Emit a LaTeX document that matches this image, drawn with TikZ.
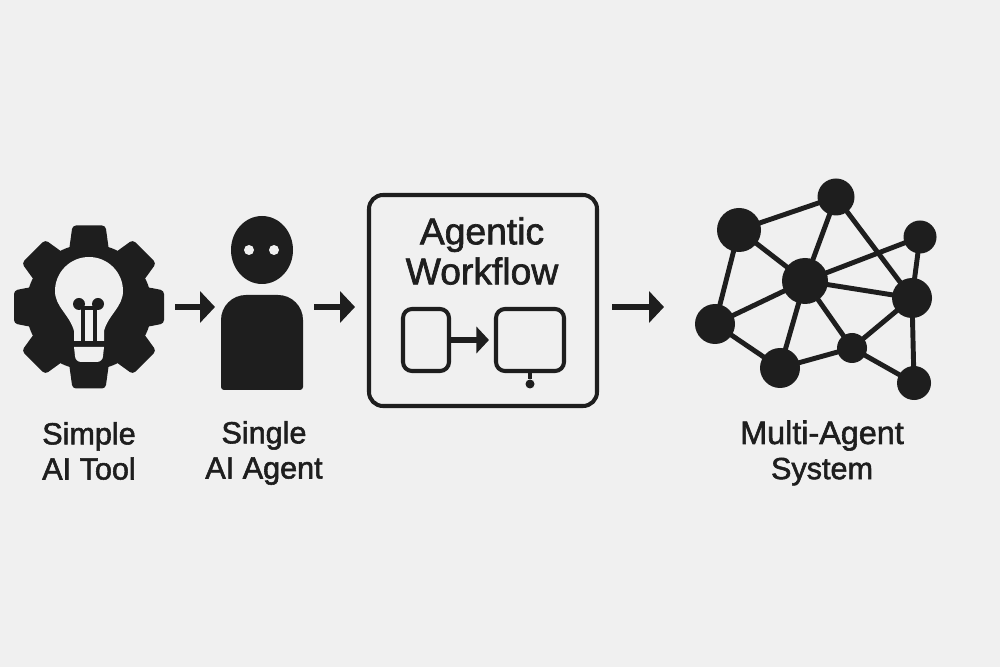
\documentclass[tikz,border=0pt]{standalone}
\usepackage{fontspec}
\setmainfont{Liberation Sans}[FakeBold=1.8]
\usetikzlibrary{arrows.meta}
\definecolor{ink}{HTML}{1E1E1E}
\definecolor{paper}{HTML}{F0F0F0}
\tikzset{
	flowarrow/.style={ink, line width=1.7pt, -{Triangle[length=1.5mm,width=3.1mm]}},
	smallarrow/.style={ink, line width=1.5pt, -{Triangle[length=1.25mm,width=2.6mm]}},
	agentnode/.style={circle, fill=ink, inner sep=0pt, outer sep=0pt},
	netlink/.style={ink, line width=1.4pt},
	flowbox/.style={draw=ink, line width=1.15pt, rounded corners=0.9mm, inner sep=0pt},
	caption/.style={ink, align=center, font=\fontsize{8.7pt}{10pt}\selectfont, inner sep=0pt},
	boxtitle/.style={ink, align=center, font=\fontsize{10.6pt}{11.4pt}\selectfont, inner sep=0pt}
}

\begin{document}
\begin{tikzpicture}
			%%%%% START %%%%%
			\fill[paper] (0, 0) rectangle (10, 6.67);
			
			% gear with bulb
			\foreach \a/\r in {0/0.75, 45/0.785, 90/0.815, 135/0.785, 180/0.75, 225/0.785, 270/0.815, 315/0.785}{
				\fill[ink, rounded corners=0.35mm, shift={(0.89, 3.60)}, rotate=\a] (0.4, -0.21) -- (0.6, -0.195) -- (\r, -0.165) -- (\r, 0.165) -- (0.6, 0.195) -- (0.4, 0.21) -- cycle;
			}
			\fill[ink] (0.89, 3.60) circle (0.63);
			\fill[paper] (0.74, 3.26) -- (0.74, 3.36) .. controls (0.70, 3.52) and (0.55, 3.60) .. (0.55, 3.76) arc (180:0:0.34) .. controls (1.23, 3.60) and (1.08, 3.52) .. (1.04, 3.36) -- (1.04, 3.26) -- cycle;
			\fill[paper] (0.74, 3.20) -- (1.04, 3.20) -- (1.03, 3.11) arc (0:-90:0.06) -- (0.81, 3.05) arc (270:180:0.06) -- cycle;
			\fill[ink] (0.79, 3.63) circle (0.06);
			\fill[ink] (0.98, 3.63) circle (0.06);
			\draw[ink, line width=1.15pt] (0.83, 3.26) -- (0.83, 3.59) -- (0.95, 3.59) -- (0.95, 3.26);
			
			% person
			\fill[ink] (2.62, 4.17) ellipse (0.31 and 0.34);
			\fill[paper] (2.49, 4.17) circle (0.05);
			\fill[paper] (2.74, 4.17) circle (0.05);
			\fill[ink] (2.24, 2.77) arc (270:180:0.03) -- (2.21, 3.47) arc (180:90:0.25) -- (2.78, 3.72) arc (90:0:0.25) -- (3.03, 2.80) arc (360:270:0.03) -- cycle;
			
			% workflow box
			\node[flowbox, minimum width=2.28cm, minimum height=2.11cm, rounded corners=1.4mm] (workflow) at (4.83, 3.665) {};
			\node[boxtitle] (title) at (4.82, 4.16) {Agentic\\Workflow};
			\node[flowbox, minimum width=0.46cm, minimum height=0.62cm] (stepa) at (4.26, 3.27) {};
			\node[flowbox, minimum width=0.68cm, minimum height=0.62cm] (stepb) at (5.30, 3.27) {};
			\draw[smallarrow, shorten >=0.5mm] (stepa) -- (stepb);
			\node[agentnode, minimum size=0.9mm] (stepdot) at (5.30, 2.83) {};
			\draw[ink, line width=1.15pt] (stepb) -- (stepdot);
			
			% network
			\node[agentnode, minimum size=4.4mm] (n1) at (7.39, 4.37) {};
			\node[agentnode, minimum size=3.7mm] (n2) at (8.36, 4.70) {};
			\node[agentnode, minimum size=3.3mm] (n3) at (9.20, 4.30) {};
			\node[agentnode, minimum size=4.6mm] (n4) at (8.05, 3.86) {};
			\node[agentnode, minimum size=4.0mm] (n5) at (9.12, 3.69) {};
			\node[agentnode, minimum size=4.0mm] (n6) at (7.15, 3.43) {};
			\node[agentnode, minimum size=4.0mm] (n7) at (7.80, 2.99) {};
			\node[agentnode, minimum size=3.0mm] (n8) at (8.52, 3.19) {};
			\node[agentnode, minimum size=3.4mm] (n9) at (9.14, 2.84) {};
			\foreach \s/\t in {n1/n2, n1/n4, n1/n6, n2/n4, n2/n5, n3/n4, n3/n5, n4/n5, n4/n6, n4/n7, n4/n8, n5/n8, n5/n9, n6/n7, n7/n8, n8/n9}{
				\draw[netlink] (\s.center) -- (\t.center);
			}
			
			% arrows between the stages
			\coordinate (a1) at (1.75, 3.60);
			\coordinate (b1) at (2.15, 3.60);
			\coordinate (a2) at (3.14, 3.60);
			\coordinate (b2) at (3.55, 3.60);
			\coordinate (a3) at (6.12, 3.60);
			\coordinate (b3) at (6.64, 3.60);
			\draw[flowarrow] (a1) -- (b1);
			\draw[flowarrow] (a2) -- (b2);
			\draw[flowarrow] (a3) -- (b3);
			
			% captions
			\node[caption] (tool) at (0.89, 2.16) {Simple\\AI Tool};
			\node[caption] (agent) at (2.64, 2.14) {Single\\AI Agent};
			\node[caption] (system) at (8.22, 2.14) {{\fontsize{9.2pt}{10pt}\selectfont Multi-Agent}\\System};
			%%%%% END %%%%%
		\end{tikzpicture}
\end{document}
